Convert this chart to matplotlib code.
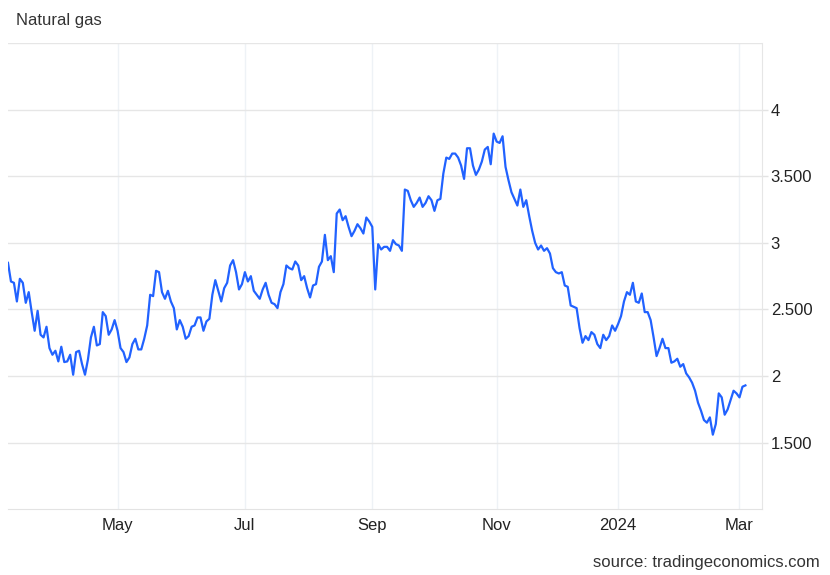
import numpy as np
import pandas as pd
import matplotlib
matplotlib.use("Agg")
import matplotlib.pyplot as plt

plt.rcParams['font.family'] = ['Liberation Sans', 'DejaVu Sans']

# front-month natural gas, one value per trading day, grouped by month
mar23 = [2.85, 2.71, 2.70, 2.56, 2.73, 2.70, 2.55, 2.63, 2.48, 2.34, 2.49, 2.31,
         2.29, 2.37, 2.21, 2.16, 2.19, 2.11]
apr23 = [2.22, 2.105, 2.11, 2.16, 2.01, 2.18, 2.19, 2.09, 2.01, 2.125, 2.29, 2.37,
         2.23, 2.24, 2.48, 2.45, 2.31, 2.35, 2.42]
may23 = [2.34, 2.21, 2.18, 2.105, 2.14, 2.24, 2.28, 2.20, 2.20, 2.28, 2.38, 2.61,
         2.60, 2.79, 2.78, 2.63, 2.58, 2.64, 2.56, 2.51, 2.35, 2.42]
jun23 = [2.37, 2.28, 2.30, 2.37, 2.38, 2.44, 2.44, 2.34, 2.41, 2.43, 2.61, 2.72,
         2.64, 2.56, 2.66, 2.70, 2.83, 2.87, 2.78, 2.65, 2.69]
jul23 = [2.78, 2.71, 2.75, 2.64, 2.61, 2.58, 2.65, 2.70, 2.61, 2.55, 2.54, 2.51,
         2.63, 2.69, 2.83, 2.81, 2.80, 2.86, 2.83, 2.72]
aug23 = [2.75, 2.66, 2.59, 2.68, 2.69, 2.82, 2.86, 3.06, 2.87, 2.90, 2.78, 3.22,
         3.25, 3.17, 3.20, 3.12, 3.05, 3.09, 3.14, 3.11, 3.07, 3.19, 3.16]
sep23 = [3.12, 2.65, 2.99, 2.95, 2.97, 2.97, 2.94, 3.02, 2.99, 2.98, 2.94, 3.40,
         3.39, 3.32, 3.27, 3.30, 3.34, 3.27, 3.30, 3.35]
oct23 = [3.32, 3.24, 3.32, 3.33, 3.52, 3.64, 3.63, 3.67, 3.67, 3.64, 3.58, 3.48,
         3.71, 3.71, 3.58, 3.51, 3.55, 3.61, 3.70, 3.72, 3.59, 3.82]
nov23 = [3.76, 3.75, 3.80, 3.57, 3.47, 3.38, 3.33, 3.28, 3.40, 3.27, 3.32, 3.20,
         3.09, 3.00, 2.95, 2.98, 2.94, 2.96, 2.92, 2.81, 2.78]
dec23 = [2.77, 2.78, 2.68, 2.67, 2.53, 2.52, 2.51, 2.36, 2.25, 2.30, 2.27, 2.33,
         2.31, 2.24, 2.21, 2.31, 2.27, 2.30, 2.38, 2.34]
jan24 = [2.39, 2.45, 2.56, 2.63, 2.61, 2.70, 2.56, 2.55, 2.62, 2.48, 2.48, 2.42,
         2.29, 2.15, 2.21, 2.28, 2.21, 2.21, 2.10, 2.11, 2.13]
feb24 = [2.07, 2.09, 2.02, 1.99, 1.95, 1.89, 1.80, 1.74, 1.67, 1.65, 1.69, 1.56,
         1.64, 1.87, 1.84, 1.71, 1.75, 1.82, 1.89, 1.87]
mar24 = [1.84, 1.92, 1.93]

holidays = ['2023-04-07', '2023-05-29', '2023-06-19', '2023-07-04', '2023-09-04',
            '2023-11-23', '2023-12-25', '2024-01-01', '2024-01-15', '2024-02-19']

x_tick_months = ['2023-05', '2023-07', '2023-09', '2023-11', '2024-01', '2024-03']
x_tick_labels = ['May', 'Jul', 'Sep', 'Nov', '2024', 'Mar']
y_ticks = [1.5, 2, 2.5, 3, 3.5, 4]
y_tick_labels = ['1.500', '2', '2.500', '3', '3.500', '4']

prices = mar23 + apr23 + may23 + jun23 + jul23 + aug23 + sep23 + oct23 + nov23 + dec23 + jan24 + feb24 + mar24

# trading-day calendar, the chart spaces points by session not by calendar day
days = pd.bdate_range('2023-03-08', '2024-03-05')
days = days[~days.isin(pd.to_datetime(holidays))]
days = days[:len(prices)]
idx = np.arange(len(prices))

months = days.strftime('%Y-%m')
tick_pos = [int(np.argmax(months == m)) for m in x_tick_months]

fig = plt.figure(figsize=(8.3, 5.75), dpi=100)
ax = fig.add_axes([8 / 830, 1 - 509.3 / 575, (761.7 - 8) / 830, (509.3 - 43) / 575])

ax.plot(idx, prices, color='#2162ff', lw=1.6, solid_joinstyle='round', zorder=3)

ax.set_xlim(0, 254.5)
ax.set_ylim(1.0, 4.5)

ax.yaxis.tick_right()
ax.set_yticks(y_ticks)
ax.set_yticklabels(y_tick_labels)
ax.set_yticks([4.5], minor=True)
ax.set_xticks(tick_pos)
ax.set_xticklabels(x_tick_labels)

ax.tick_params(axis='y', which='major', length=4, width=1, color='#e3e3e3', pad=2.5,
               labelsize=12, labelcolor='#222222')
ax.tick_params(axis='y', which='minor', length=0)
ax.tick_params(axis='x', length=0, pad=6, labelsize=12, labelcolor='#222222')

ax.grid(axis='y', which='both', color='#e6e6e6', lw=1)
ax.grid(axis='x', color='#eef2f6', lw=1)

for s in ['left', 'top']:
    ax.spines[s].set_visible(False)
ax.spines['right'].set_color('#e6e6e6')
ax.spines['bottom'].set_color('#e3e3e3')

fig.text(16 / 830, 1 - 20 / 575, 'Natural gas', fontsize=12, color='#333333',
         ha='left', va='center')
fig.text(820 / 830, 1 - 563 / 575, 'source: tradingeconomics.com', fontsize=12,
         color='#333333', ha='right', va='center')

fig.savefig('out.png', dpi=100)
